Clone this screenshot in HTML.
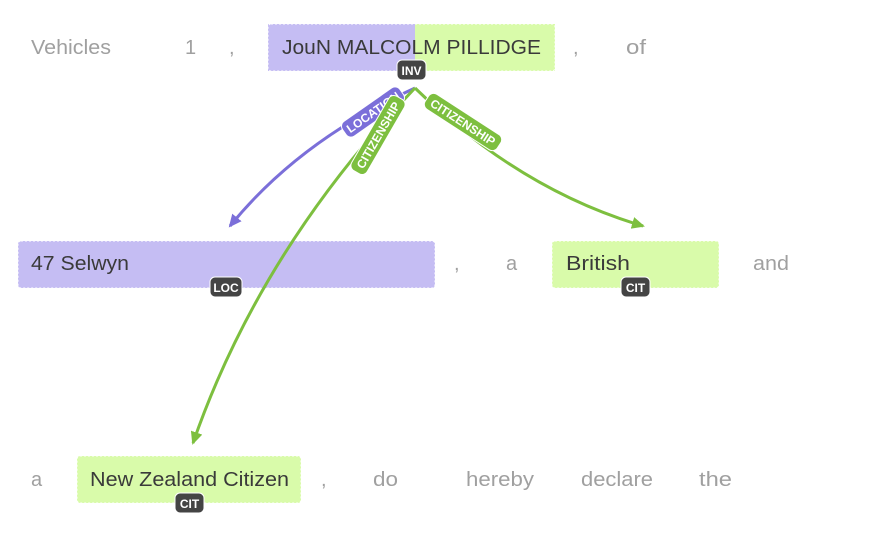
<!DOCTYPE html>
<html><head><meta charset="utf-8"><style>
body{margin:0;background:#fff;width:885px;height:535px;overflow:hidden;font-family:"Liberation Sans",sans-serif}
</style></head><body>
<svg width="885" height="535" xmlns="http://www.w3.org/2000/svg" font-family="Liberation Sans, sans-serif">
<defs>
<marker id="ap" markerWidth="14" markerHeight="12" refX="11" refY="6" orient="auto" markerUnits="userSpaceOnUse"><path d="M0,0 L13,6 L0,12 z" fill="#7b6fd9"/></marker>
<marker id="ag" markerWidth="14" markerHeight="12" refX="11" refY="6" orient="auto" markerUnits="userSpaceOnUse"><path d="M0,0 L13,6 L0,12 z" fill="#7dbf3f"/></marker>
</defs>
<rect x="268" y="24" width="148" height="47" fill="#c5bdf3"/>
<rect x="415" y="24" width="140" height="47" fill="#d9fbaa"/>
<rect x="268" y="24" width="287" height="47" rx="3" fill="none" stroke="#fff" stroke-dasharray="2,2"/>
<rect x="18" y="241" width="417" height="47" rx="3" fill="#c5bdf3" stroke="#fff" stroke-dasharray="2,2"/>
<rect x="552" y="241" width="167" height="47" rx="3" fill="#d9fbaa" stroke="#fff" stroke-dasharray="2,2"/>
<rect x="77" y="456" width="224" height="47" rx="3" fill="#d9fbaa" stroke="#fff" stroke-dasharray="2,2"/>
<g font-size="20" fill="#a0a0a0">
<text x="31" y="54" textLength="80" lengthAdjust="spacingAndGlyphs">Vehicles</text><text x="185" y="54">1</text><text x="229" y="54">,</text>
<text x="573" y="54">,</text><text x="626" y="54" textLength="20" lengthAdjust="spacingAndGlyphs">of</text>
<text x="454" y="270">,</text><text x="506" y="270">a</text><text x="753" y="270" textLength="36" lengthAdjust="spacingAndGlyphs">and</text>
<text x="31" y="486">a</text><text x="321" y="486">,</text><text x="373" y="486" textLength="25" lengthAdjust="spacingAndGlyphs">do</text><text x="466" y="486" textLength="68" lengthAdjust="spacingAndGlyphs">hereby</text><text x="581" y="486" textLength="72" lengthAdjust="spacingAndGlyphs">declare</text><text x="699" y="486" textLength="33" lengthAdjust="spacingAndGlyphs">the</text>
</g>
<g font-size="20" fill="#3a3a3a">
<text x="282" y="54" textLength="259" lengthAdjust="spacingAndGlyphs">JouN MALCOLM PILLIDGE</text>
<text x="31" y="270" textLength="98" lengthAdjust="spacingAndGlyphs">47 Selwyn</text>
<text x="566" y="270" textLength="64" lengthAdjust="spacingAndGlyphs">British</text>
<text x="90" y="486" textLength="199" lengthAdjust="spacingAndGlyphs">New Zealand Citizen</text>
</g>
<path d="M415,88 Q300,140 230,226" fill="none" stroke="#7b6fd9" stroke-width="3" marker-end="url(#ap)"/>
<path d="M415,88 Q520,190 643,226" fill="none" stroke="#7dbf3f" stroke-width="3" marker-end="url(#ag)"/>
<path d="M415,88 Q260,250 193,443" fill="none" stroke="#7dbf3f" stroke-width="3" marker-end="url(#ag)"/>
<g font-size="12" font-weight="bold" fill="#fff" text-anchor="middle">
<g transform="translate(373,112) rotate(-35)"><rect x="-35" y="-9" width="70" height="18" rx="6" fill="#7b6fd9" stroke="#fff"/><text y="4.5">LOCATION</text></g>
<g transform="translate(378,135) rotate(-60)"><rect x="-43" y="-9" width="86" height="18" rx="6" fill="#7dbf3f" stroke="#fff"/><text y="4.5">CITIZENSHIP</text></g>
<g transform="translate(463,122) rotate(33)"><rect x="-43" y="-9" width="86" height="18" rx="6" fill="#7dbf3f" stroke="#fff"/><text y="4.5">CITIZENSHIP</text></g>
</g>
<g font-size="12" font-weight="bold" fill="#fff" text-anchor="middle">
<rect x="397" y="60" width="29" height="20" rx="5" fill="#444" stroke="#fff"/><text x="411.5" y="75">INV</text>
<rect x="210" y="277" width="32" height="20" rx="5" fill="#444" stroke="#fff"/><text x="226" y="292">LOC</text>
<rect x="621" y="277" width="29" height="20" rx="5" fill="#444" stroke="#fff"/><text x="635.5" y="292">CIT</text>
<rect x="175" y="493" width="29" height="20" rx="5" fill="#444" stroke="#fff"/><text x="189.5" y="508">CIT</text>
</g>
</svg>
</body></html>
